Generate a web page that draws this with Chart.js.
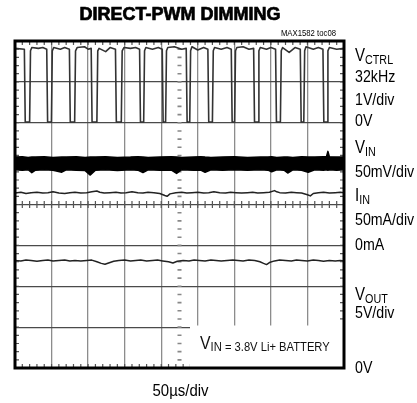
<!DOCTYPE html>
<html>
<head>
<meta charset="utf-8">
<script src="https://cdn.jsdelivr.net/npm/chart.js@4/dist/chart.umd.min.js"></script>
<style>
  html, body { margin: 0; padding: 0; background: #fff; }
  #wrap { width: 417px; height: 403px; }
</style>
</head>
<body>
<div id="wrap"><canvas id="scope" width="417" height="403"></canvas></div>
<script>
// x = time in us (50us/div), y = screen divisions (0 = bottom, 8 = top)
const timeGrid = [0, 50, 100, 150, 200, 250, 300, 350, 400, 450];
const divGrid = [0, 1, 2, 3, 4, 5, 6, 7, 8];

// VCTRL square wave, [time, div]
const ctrlTrace = [
  [0, 7.82], [12.8, 7.80], [14.0, 6.02], [20.0, 6.02], [21.2, 7.76], [23, 7.84],
  [32, 7.82], [38, 7.84], [43.4, 7.80], [44.6, 6.02], [49.8, 6.02], [51.0, 7.76], [53, 7.84],
  [62, 7.80], [68, 7.84], [74.4, 7.80], [75.6, 6.02], [81.6, 6.02], [82.8, 7.76], [85, 7.84],
  [95, 7.86], [100, 7.80], [104.2, 7.82], [105.4, 6.02], [112, 6.02], [113.2, 7.76], [115, 7.82],
  [124, 7.74], [130, 7.84], [137.4, 7.80], [138.6, 6.02], [145.4, 6.02], [146.6, 7.76], [149, 7.84],
  [158, 7.82], [165, 7.84], [170.4, 7.80], [171.6, 6.02], [176, 6.02], [177.2, 7.76], [179, 7.84],
  [188, 7.80], [196, 7.84], [201.4, 7.80], [202.6, 6.02], [206, 6.02], [207.2, 7.76], [209, 7.84],
  [218, 7.86], [228, 7.80], [234.2, 7.82], [235.4, 6.02], [239, 6.02], [240.2, 7.76], [242, 7.86],
  [250, 7.78], [258, 7.84], [263.8, 7.80], [265.0, 6.02], [270, 6.02], [271.2, 7.76], [273, 7.84],
  [282, 7.80], [290, 7.84], [295.8, 7.80], [297.0, 6.02], [300.4, 6.02], [301.6, 7.76], [303.5, 7.84],
  [312, 7.86], [320, 7.80], [326.4, 7.82], [327.6, 6.02], [332.4, 6.02], [333.6, 7.76], [335.5, 7.84],
  [344, 7.80], [350, 7.84], [356.4, 7.80], [357.6, 6.02], [363, 6.02], [364.2, 7.76], [366, 7.84],
  [375, 7.72], [383, 7.84], [390.2, 7.80], [391.4, 6.02], [395, 6.02], [396.2, 7.76], [398, 7.86],
  [408, 7.80], [415, 7.84], [421.2, 7.80], [422.4, 6.02], [426.8, 6.02], [428.0, 7.76], [430, 7.84],
  [440, 7.80], [450, 7.82]
];

// VIN ripple band, [time, top edge, bottom edge]
const vinTrace = [
  [0, 5.16, 4.85], [10, 5.17, 4.84], [18, 5.15, 4.85], [23, 5.16, 4.78], [28, 5.16, 4.84],
  [40, 5.17, 4.85], [52, 5.15, 4.84], [64, 5.16, 4.79], [70, 5.16, 4.85], [84, 5.17, 4.84],
  [96, 5.15, 4.83], [103, 5.16, 4.72], [110, 5.16, 4.84], [124, 5.17, 4.85], [140, 5.15, 4.83],
  [158, 5.16, 4.85], [168, 5.17, 4.84], [175, 5.16, 4.78], [182, 5.15, 4.85], [198, 5.16, 4.84],
  [214, 5.17, 4.84], [221, 5.16, 4.76], [228, 5.15, 4.85], [244, 5.16, 4.84], [254, 5.17, 4.84],
  [260, 5.16, 4.79], [268, 5.15, 4.85], [284, 5.16, 4.84], [300, 5.17, 4.85], [318, 5.15, 4.84],
  [336, 5.16, 4.85], [346, 5.16, 4.84], [351, 5.17, 4.80], [358, 5.15, 4.85], [368, 5.16, 4.84],
  [373, 5.16, 4.77], [380, 5.15, 4.85], [392, 5.17, 4.84], [401, 5.16, 4.79], [410, 5.16, 4.85],
  [422, 5.17, 4.84], [426, 5.17, 4.85], [428, 5.30, 4.84], [430, 5.17, 4.85], [440, 5.16, 4.84],
  [450, 5.16, 4.85]
];

// IIN, [time, div]
const iinTrace = [
  [0, 4.28], [8, 4.30], [15, 4.27], [22, 4.29], [30, 4.30], [38, 4.28], [45, 4.29], [52, 4.31],
  [60, 4.28], [68, 4.27], [75, 4.29], [82, 4.30], [90, 4.28], [98, 4.29], [105, 4.31], [112, 4.33],
  [116, 4.30], [122, 4.28], [130, 4.29], [138, 4.30], [145, 4.28], [152, 4.29], [160, 4.31],
  [168, 4.29], [175, 4.28], [182, 4.30], [190, 4.29], [198, 4.27], [205, 4.22], [208, 4.20],
  [212, 4.26], [220, 4.29], [228, 4.30], [235, 4.28], [242, 4.29], [250, 4.30], [258, 4.28],
  [265, 4.29], [272, 4.31], [280, 4.29], [288, 4.28], [295, 4.30], [302, 4.29], [310, 4.28],
  [318, 4.29], [325, 4.30], [332, 4.28], [340, 4.29], [348, 4.30], [355, 4.34], [358, 4.31],
  [362, 4.29], [370, 4.28], [378, 4.30], [385, 4.29], [392, 4.28], [400, 4.24], [404, 4.21],
  [408, 4.27], [415, 4.29], [422, 4.30], [430, 4.28], [438, 4.29], [445, 4.30], [450, 4.29]
];

// VOUT, [time, div]
const voutTrace = [
  [0, 2.63], [8, 2.62], [15, 2.64], [22, 2.63], [30, 2.61], [38, 2.63], [45, 2.64], [52, 2.62],
  [60, 2.63], [68, 2.64], [75, 2.62], [82, 2.63], [90, 2.62], [98, 2.63], [105, 2.64], [112, 2.60],
  [118, 2.56], [123, 2.54], [128, 2.57], [135, 2.61], [142, 2.63], [150, 2.64], [158, 2.62],
  [165, 2.63], [172, 2.64], [180, 2.62], [188, 2.63], [195, 2.64], [202, 2.62], [210, 2.60],
  [216, 2.57], [222, 2.61], [230, 2.63], [238, 2.62], [245, 2.64], [252, 2.63], [260, 2.62],
  [268, 2.64], [275, 2.63], [282, 2.62], [290, 2.63], [298, 2.64], [305, 2.63], [312, 2.62],
  [320, 2.64], [328, 2.63], [335, 2.60], [340, 2.56], [344, 2.53], [348, 2.58], [355, 2.62],
  [362, 2.64], [370, 2.63], [378, 2.62], [385, 2.64], [392, 2.63], [400, 2.62], [408, 2.64],
  [415, 2.63], [422, 2.61], [430, 2.63], [438, 2.62], [445, 2.63], [450, 2.62]
];

const titleText = "DIRECT-PWM DIMMING";
const figureId = "MAX1582 toc08";
const timebaseText = "50\u00b5s/div";
const noteText = ["V", "IN = 3.8V Li+ BATTERY"];

const FONT = '"Liberation Sans", Arial, sans-serif';

function toPoints(trace, col) {
  return trace.map((p) => ({ x: p[0], y: p[col] }));
}

// condensed text: squeeze horizontally, as the original uses a narrow face
function squeezed(ctx, text, x, y, size, squeeze, align) {
  ctx.save();
  ctx.translate(x, y);
  ctx.scale(squeeze, 1);
  ctx.textAlign = align || "left";
  ctx.font = size + "px " + FONT;
  ctx.fillText(text, 0, 0);
  const w = ctx.measureText(text).width * squeeze;
  ctx.restore();
  return w;
}

function labelWithSub(ctx, x, y, main, sub, mainSize, subSize, drop) {
  const w = squeezed(ctx, main, x, y, mainSize, 0.86);
  if (sub) squeezed(ctx, sub, x + w, y + drop, subSize, 0.86);
}

const scopeDecor = {
  id: "scopeDecor",
  beforeDatasetsDraw(chart) {
    const { ctx, chartArea: a, scales } = chart;
    const xs = scales.x, ys = scales.y;
    ctx.save();
    // minor ticks on the centre axes and on the frame
    ctx.strokeStyle = "#555";
    ctx.lineWidth = 1.2;
    const yc = ys.getPixelForValue(4);
    const xc = xs.getPixelForValue(225);
    ctx.beginPath();
    for (let t = 10; t < 450; t += 10) {
      const px = xs.getPixelForValue(t);
      ctx.moveTo(px, yc - 3.5); ctx.lineTo(px, yc + 3.5);
      ctx.moveTo(px, a.top); ctx.lineTo(px, a.top + 4);
      ctx.moveTo(px, a.bottom); ctx.lineTo(px, a.bottom - 4);
    }
    for (let d = 0.2; d < 8; d += 0.2) {
      const py = ys.getPixelForValue(d);
      ctx.moveTo(a.left, py); ctx.lineTo(a.left + 4, py);
      ctx.moveTo(a.right, py); ctx.lineTo(a.right - 4, py);
    }
    ctx.stroke();
    ctx.strokeStyle = "#888";
    ctx.lineWidth = 1.6;
    ctx.beginPath();
    for (let d = 0.2; d < 8; d += 0.2) {
      const py = ys.getPixelForValue(d);
      ctx.moveTo(xc - 2, py); ctx.lineTo(xc + 2, py);
    }
    ctx.stroke();
    ctx.restore();
  },
  afterDraw(chart) {
    const { ctx, chartArea: a } = chart;
    ctx.save();
    // note box in the lower right corner
    ctx.fillStyle = "#fff";
    ctx.fillRect(190, 325.5, a.right - 191, a.bottom - 325.5);
    ctx.fillStyle = "#111";
    const vw = squeezed(ctx, noteText[0], 200, 348.5, 18, 0.88);
    squeezed(ctx, noteText[1], 200 + vw, 350.5, 13.5, 0.83);

    // frame
    ctx.strokeStyle = "#000";
    ctx.lineWidth = 3;
    ctx.strokeRect(a.left, a.top, a.right - a.left, a.bottom - a.top);

    // title and figure id
    ctx.fillStyle = "#000";
    ctx.textAlign = "center";
    ctx.font = 'bold 18px ' + FONT;
    ctx.fillText(titleText, 180, 19.5);
    ctx.lineWidth = 0.7;
    ctx.strokeText(titleText, 180, 19.5);
    squeezed(ctx, figureId, 336, 35.5, 9, 0.86, "right");
    squeezed(ctx, timebaseText, 180.5, 396, 17, 0.88, "center");

    // channel labels on the right
    const lx = 355;
    labelWithSub(ctx, lx, 61, "V", "CTRL", 17.5, 12.5, 2.5);
    labelWithSub(ctx, lx, 82, "32kHz", "", 16.5);
    labelWithSub(ctx, lx, 105, "1V/div", "", 16.5);
    labelWithSub(ctx, lx, 126, "0V", "", 16.5);
    labelWithSub(ctx, lx, 153, "V", "IN", 17.5, 12.5, 2.5);
    labelWithSub(ctx, lx, 177, "50mV/div", "", 16.5);
    labelWithSub(ctx, lx, 201, "I", "IN", 17.5, 12.5, 2.5);
    labelWithSub(ctx, lx, 225, "50mA/div", "", 16.5);
    labelWithSub(ctx, lx, 250, "0mA", "", 16.5);
    labelWithSub(ctx, lx, 300, "V", "OUT", 17.5, 12.5, 2.5);
    labelWithSub(ctx, lx, 318, "5V/div", "", 16.5);
    labelWithSub(ctx, lx, 373, "0V", "", 16.5);
    ctx.restore();
  }
};

const traceStyle = { pointRadius: 0, tension: 0, borderJoinStyle: "round" };

const scopeChart = new Chart(document.getElementById("scope").getContext("2d"), {
  type: "line",
  data: {
    datasets: [
      { ...traceStyle, label: "VCTRL", data: toPoints(ctrlTrace, 1), borderColor: "#333", borderWidth: 1.6, fill: false },
      { ...traceStyle, label: "VIN top", data: toPoints(vinTrace, 1), borderColor: "#000", borderWidth: 1.5, fill: false },
      { ...traceStyle, label: "VIN", data: toPoints(vinTrace, 2), borderColor: "#000", borderWidth: 1.5, fill: "-1", backgroundColor: "#000" },
      { ...traceStyle, label: "IIN", data: toPoints(iinTrace, 1), borderColor: "#222", borderWidth: 1.5, fill: false },
      { ...traceStyle, label: "VOUT", data: toPoints(voutTrace, 1), borderColor: "#222", borderWidth: 1.5, fill: false }
    ]
  },
  options: {
    responsive: false,
    animation: false,
    layout: { padding: { left: 15, top: 41, right: 73, bottom: 35 } },
    plugins: { legend: { display: false }, tooltip: { enabled: false } },
    scales: {
      x: {
        type: "linear",
        min: timeGrid[0],
        max: timeGrid[timeGrid.length - 1],
        afterBuildTicks: (s) => { s.ticks = timeGrid.map((v) => ({ value: v })); },
        ticks: { display: false },
        grid: { drawTicks: false, color: "#8c8c8c", lineWidth: 1.3 },
        border: { display: false }
      },
      y: {
        type: "linear",
        min: divGrid[0],
        max: divGrid[divGrid.length - 1],
        afterBuildTicks: (s) => { s.ticks = divGrid.map((v) => ({ value: v })); },
        ticks: { display: false },
        grid: { drawTicks: false, color: "#4a4a4a", lineWidth: 1.2 },
        border: { display: false }
      }
    }
  },
  plugins: [scopeDecor]
});
</script>
</body>
</html>
